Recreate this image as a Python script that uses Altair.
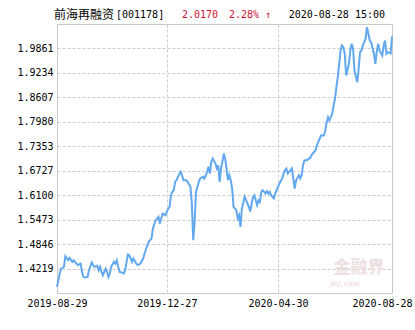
import altair as alt
import pandas as pd

# trading-day index and net asset value
day = [0, 2, 3, 5, 6, 8, 9, 11, 12, 14, 15, 17, 18, 19, 20, 22, 23, 25, 26, 27,
       29, 30, 31, 32, 33, 35, 36, 37, 38, 39, 41, 42, 43, 44, 45, 47, 48, 49, 51, 52,
       54, 55, 57, 58, 60, 62, 63, 65, 66, 67, 68, 69, 71, 72, 73, 74, 75, 76, 78, 79,
       80, 81, 82, 83, 84, 85, 86, 87, 89, 90, 91, 93, 94, 96, 97, 98, 99, 100, 102, 103,
       105, 106, 108, 109, 110, 111, 112, 114, 115, 116, 117, 118, 119, 120, 121, 123, 124, 125, 126, 127,
       129, 130, 131, 132, 133, 135, 136, 137, 138, 139, 141, 142, 144, 145, 146, 147, 148, 150, 151, 152,
       153, 154, 156, 157, 158, 159, 160, 162, 163, 164, 165, 166, 168, 169, 170, 171, 172, 174, 175, 176,
       177, 178, 180, 181, 182, 183, 184, 186, 187, 188, 189, 190, 192, 193, 194, 195, 196, 198, 199, 200,
       201, 202, 203, 204, 205, 206, 207, 208, 210, 211, 212, 213, 214, 216, 217, 218, 219, 220, 222, 223,
       224, 225, 226, 228, 229, 230, 231, 232, 234, 235, 236, 237, 238, 240, 241]
nav = [1.3750, 1.4091, 1.4219, 1.4263, 1.4534, 1.4432, 1.4493, 1.4391, 1.4432, 1.4347,
       1.4304, 1.4347, 1.4134, 1.4006, 1.3988, 1.4006, 1.4175, 1.4373, 1.4304, 1.4263,
       1.4288, 1.4175, 1.4263, 1.4134, 1.4047, 1.4219, 1.4134, 1.4006, 1.4091, 1.4263,
       1.4391, 1.4347, 1.4432, 1.4263, 1.4134, 1.4116, 1.4091, 1.4175, 1.4578, 1.4560,
       1.4391, 1.4475, 1.4347, 1.4304, 1.4347, 1.4475, 1.4604, 1.4816, 1.4904, 1.4945,
       1.4988, 1.5245, 1.5457, 1.5501, 1.5545, 1.5373, 1.5501, 1.5629, 1.5586, 1.5673,
       1.5757, 1.5801, 1.6098, 1.6186, 1.6227, 1.6442, 1.6483, 1.6570, 1.6698, 1.6611,
       1.6483, 1.6483, 1.6442, 1.6314, 1.5886, 1.4945, 1.5398, 1.6186, 1.6442, 1.6527,
       1.6570, 1.6527, 1.6698, 1.6827, 1.6655, 1.6955, 1.7039, 1.6911, 1.6783, 1.6868,
       1.6442, 1.6783, 1.6955, 1.7168, 1.7039, 1.6483, 1.6611, 1.6483, 1.6270, 1.5801,
       1.5714, 1.5501, 1.5586, 1.5288, 1.5757, 1.6057, 1.5970, 1.5886, 1.5801, 1.5680,
       1.6057, 1.6098, 1.5842, 1.5970, 1.5929, 1.6186, 1.6227, 1.6142, 1.6201, 1.6142,
       1.6186, 1.6098, 1.6014, 1.6142, 1.6227, 1.6314, 1.6398, 1.6527, 1.6655, 1.6739,
       1.6783, 1.6655, 1.6739, 1.6783, 1.6527, 1.6270, 1.6483, 1.6611, 1.6527, 1.6611,
       1.6868, 1.6996, 1.6996, 1.7039, 1.7039, 1.7124, 1.7168, 1.7252, 1.7380, 1.7468,
       1.7552, 1.7637, 1.7629, 1.7757, 1.7970, 1.8098, 1.8014, 1.8186, 1.8398, 1.8570,
       1.8868, 1.9124, 1.9468, 1.9809, 1.9937, 1.9893, 1.9724, 1.9168, 1.9468, 1.9809,
       1.9980, 1.9852, 1.9296, 1.8996, 1.9339, 1.9765, 1.9809, 1.9937, 2.0109, 2.0406,
       2.0237, 2.0065, 2.0021, 1.9724, 1.9468, 1.9765, 1.9980, 1.9809, 1.9680, 1.9937,
       2.0065, 1.9724, 1.9765, 1.9730, 2.0170]

y_ticks = [1.4219, 1.4846, 1.5473, 1.6100, 1.6727, 1.7353, 1.7980, 1.8607, 1.9234, 1.9861]
y_domain = [1.3592, 2.0488]
x_tick_idx = [0, 79, 159, 241]
x_tick_lbl = ["2019-08-29", "2019-12-27", "2020-04-30", "2020-08-28"]

title_name = "前海再融资"
title_code = "[001178]"
last_nav = "2.0170"
last_chg = "2.28% ↑"
stamp = "2020-08-28 15:00"
mark_cn = "金融界"
mark_en = "JRJ.com"

df = pd.DataFrame({"day": day, "nav": nav})

label_expr = "''"
for i, l in reversed(list(zip(x_tick_idx, x_tick_lbl))):
    label_expr = f"datum.value == {i} ? '{l}' : ({label_expr})"

MONO = "DejaVu Sans Mono"
CJK = "Noto Sans CJK SC"
GRID = "#cccccc"
last_idx = x_tick_idx[-1]

x_axis = alt.Axis(
    values=x_tick_idx, labelExpr=label_expr, title=None,
    grid=True, gridColor=GRID, gridDash=[3, 2],
    gridOpacity={"condition": {"test": f"datum.value == 0 || datum.value == {last_idx}", "value": 0}, "value": 1},
    domain=False, ticks=False, labelPadding=5, labelFlush=False,
    labelOffset={"condition": {"test": f"datum.value == {last_idx}", "value": -10}, "value": 0},
    labelFont=MONO, labelFontSize=10, labelColor="#000000", labelOverlap=False,
)
y_axis = alt.Axis(
    values=y_ticks, format=".4f", title=None,
    grid=True, gridColor=GRID, gridDash=[3, 2],
    domain=False, ticks=False, labelPadding=4,
    labelFont=MONO, labelFontSize=10, labelColor="#000000", labelOverlap=False,
)

line = alt.Chart(df).mark_line(color="#62a8ef", strokeWidth=2).encode(
    x=alt.X("day:Q", scale=alt.Scale(domain=[0, last_idx], nice=False, zero=False), axis=x_axis),
    y=alt.Y("nav:Q", scale=alt.Scale(domain=y_domain, nice=False, zero=False), axis=y_axis),
)


def txt(s, x, y, color="#000000", font=MONO, size=10, align="left", **kw):
    return alt.Chart(pd.DataFrame({"t": [s]})).mark_text(
        align=align, baseline="middle", font=font, fontSize=size, color=color, **kw
    ).encode(text="t:N", x=alt.value(x), y=alt.value(y))


wm1 = txt(mark_cn, 302, 244, color="#eddfdf", font=CJK, size=17, align="center", fontWeight="bold")
wm2 = txt(mark_en, 288, 260, color="#efe4e4", font="DejaVu Sans", size=7, align="center", fontStyle="italic", fontWeight="bold")

t1 = txt(title_name, -3, -9, font=CJK, size=12)
t2 = txt(title_code, 59, -9)
t3 = txt(last_nav, 125, -9, color="#cc1133")
t4 = txt(last_chg, 172, -9, color="#cc1133")
t5 = txt(stamp, 328, -9, align="right")

chart = alt.layer(wm1, wm2, line, t1, t2, t3, t4, t5).properties(
    width=335, height=269,
    autosize=alt.AutoSizeParams(type="none"),
    padding={"left": 57, "top": 24, "right": 23, "bottom": 37},
    background="#ffffff",
).configure_view(stroke="#c8c8c8", strokeWidth=1)

chart.save("out.html", embed_options={"renderer": "svg", "actions": False})
